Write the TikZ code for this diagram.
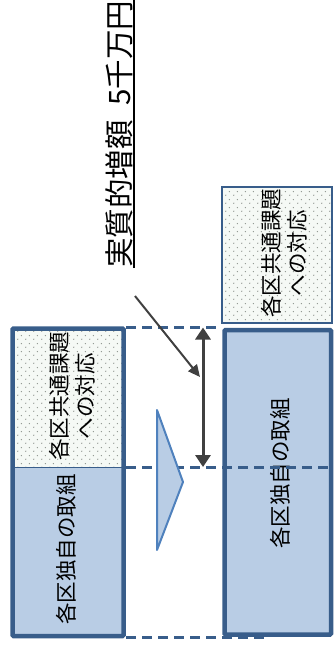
\documentclass[tikz,border=0pt]{standalone}
\usepackage{fontspec}
\newfontfamily\jp{Noto Sans CJK JP}
\usetikzlibrary{arrows.meta,patterns}
\definecolor{boxedge}{HTML}{385D8A}
\definecolor{boxfill}{HTML}{B9CDE5}
\definecolor{triedge}{HTML}{4F81BD}
\definecolor{arrowcol}{HTML}{404040}
\definecolor{dotbg}{HTML}{F5F9F5}
\definecolor{dotcol}{HTML}{8C928C}
\pgfdeclarepatternformonly{sparsedots}{\pgfpointorigin}{\pgfpoint{8pt}{8pt}}{\pgfpoint{8pt}{8pt}}{\pgfpathcircle{\pgfpoint{2pt}{2pt}}{0.75pt}\pgfpathcircle{\pgfpoint{6pt}{6pt}}{0.75pt}\pgfusepath{fill}}
\tikzset{
  dotted box/.style={preaction={fill=dotbg}, pattern=sparsedots, pattern color=dotcol},
  blue box/.style={fill=boxfill},
  frame/.style={draw=boxedge, line width=4.5, rounded corners=1},
  thin frame/.style={draw=boxedge, line width=1.5},
  guide/.style={draw=boxedge, line width=3, dash pattern=on 10 off 6},
  boxtext/.style={rotate=90, align=center, inner sep=0, font=\jp\fontsize{21.5}{26}\selectfont},
  titletext/.style={rotate=90, inner sep=0, font=\jp\fontsize{29.5}{34}\selectfont},
  dimarrow/.style={draw=arrowcol, line width=3, {Triangle[width=15,length=12]}-{Triangle[width=15,length=12]}},
  pointer/.style={draw=arrowcol, line width=2, -{Triangle[width=11,length=12]}},
  chevron/.style={draw=triedge, fill=boxfill, line width=2, line join=round}
}
\begin{document}
\begin{tikzpicture}[x=1pt,y=-1pt]
\useasboundingbox (0,0) rectangle (334,645);

% guide lines behind boxes
\coordinate (gtl) at (126,327.5);
\coordinate (gtr) at (222,327.5);
\coordinate (gbl) at (126,637.5);
\coordinate (gbr) at (264,637.5);
\draw[guide] (gtl) -- (gtr);
\draw[guide] (gbl) -- (gbr);

% left column
\node[dotted box, minimum width=111, minimum height=138.5] (ltop) at (68,397.75) {};
\node[blue box, minimum width=111, minimum height=169] (lbot) at (68,551.5) {};
\draw[draw=boxedge, line width=1] (ltop.south west) -- (ltop.south east);
\node[frame, minimum width=111, minimum height=307.5] (lframe) at (68,482.25) {};
\node[boxtext] (ltoptext) at (72,396) {各区共通課題\\への対応};
\node[boxtext] (lbottext) at (66,549.5) {各区独自の取組};

% right column
\node[thin frame, dotted box, minimum width=110, minimum height=136] (rtop) at (276.75,254.75) {};
\node[frame, blue box, minimum width=106.5, minimum height=304.5] (rbox) at (277.75,482.25) {};
\node[boxtext] (rtoptext) at (284,253) {各区共通課題\\への対応};
\node[boxtext] (rboxtext) at (280,473.5) {各区独自の取組};

% middle guide line
\coordinate (gml) at (126,467);
\coordinate (gmr) at (334,467);
\draw[guide] (gml) -- (gmr);

% chevron
\coordinate (ca) at (157,410);
\coordinate (cb) at (183,482);
\coordinate (cc) at (157,550);
\draw[chevron] (ca) -- (cb) -- (cc) -- cycle;

% dimension arrow
\coordinate (dtop) at (203,327.5);
\coordinate (dbot) at (203,467);
\draw[dimarrow] (dtop) -- (dbot);

% title
\node[titletext, anchor=base west] (title) at (130,268) {実質的増額\hspace{0.5em}5千万円};
\draw[line width=1.4, black] ([xshift=4]title.base west) -- ([xshift=4]title.base east);

% pointer
\coordinate (ps) at (135,296);
\coordinate (pe) at (200,377);
\draw[pointer] (ps) -- (pe);
\end{tikzpicture}
\end{document}
